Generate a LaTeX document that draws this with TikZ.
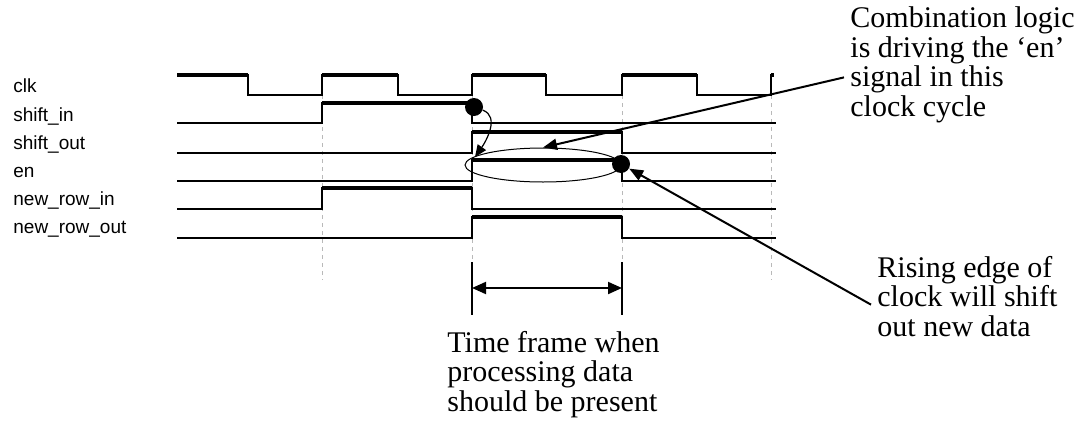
\documentclass[tikz,border=0pt]{standalone}
\usepackage{fontspec}
\setmainfont{Liberation Serif}
\newfontfamily\wavefont{Liberation Sans}
\usepackage{tikz}
\usetikzlibrary{shapes.geometric}
\usetikzlibrary{arrows.meta}

\begin{document}
\begin{tikzpicture}[x=0.5pt,y=-0.5pt,
    sig/.style={font=\wavefont\fontsize{9.5}{11}\selectfont, anchor=base west, inner sep=0},
    wave/.style={line width=1pt},
    high/.style={line width=1.6pt},
    period/.style={gray!55, dash pattern=on 2pt off 2pt, line width=0.5pt},
    sigdot/.style={circle, fill=black, inner sep=0, minimum size=9pt},
    notetext/.style={font=\fontsize{15}{14.8}\selectfont, align=left, anchor=north west, inner xsep=3pt, inner ysep=0},
    pointer/.style={-{Triangle[length=7pt,width=5.5pt]}, line width=1pt}]
    \useasboundingbox (0,0) rectangle (1086,423);

    % clock period markers
    \foreach \x in {322,472,622,771}
        \draw[period] (\x,95) -- (\x,280);

    % signal names
    \node[sig] (clk) at (13,92) {clk};
    \node[sig] (shin) at (13,121) {shift\_in};
    \node[sig] (shout) at (13,149) {shift\_out};
    \node[sig] (en) at (13,177) {en};
    \node[sig] (nrin) at (13,205) {new\_row\_in};
    \node[sig] (nrout) at (13,233) {new\_row\_out};

    % waveforms
    \draw[wave] (177,75) -- (248,75) -- (248,95) -- (322,95) -- (322,75) -- (398,75) -- (398,95)
        -- (472,95) -- (472,75) -- (546,75) -- (546,95) -- (622,95) -- (622,75) -- (697,75)
        -- (697,95) -- (771,95) -- (771,75) -- (774,75);
    \draw[wave] (177,123) -- (322,123) -- (322,103) -- (472,103) -- (472,123) -- (776,123);
    \draw[wave] (177,153) -- (472,153) -- (472,132) -- (622,132) -- (622,153) -- (776,153);
    \draw[wave] (177,181) -- (472,181) -- (472,160) -- (622,160) -- (622,181) -- (776,181);
    \draw[wave] (177,209) -- (322,209) -- (322,188) -- (472,188) -- (472,209) -- (776,209);
    \draw[wave] (177,238) -- (472,238) -- (472,217) -- (622,217) -- (622,238) -- (776,238);

    % heavier high levels
    \draw[high] (177,75) -- (248,75) (322,75) -- (398,75) (472,75) -- (546,75)
        (622,75) -- (697,75) (771,75) -- (774,75);
    \draw[high] (322,103) -- (472,103);
    \draw[high] (472,132) -- (622,132);
    \draw[high] (472,160) -- (622,160);
    \draw[high] (322,188) -- (472,188);
    \draw[high] (472,217) -- (622,217);

    % edges of interest
    \node[sigdot] (sidot) at (474,107) {};
    \node[sigdot] (endot) at (621,164) {};
    \node[draw, ellipse, line width=0.5pt, minimum width=78pt, minimum height=17pt, inner sep=0] (window) at (543,165) {};
    \coordinate (entip) at (475,157);
    \draw[line width=0.6pt, -{Triangle[length=6pt,width=5pt]}] (sidot) to[out=-20,in=55] (entip);

    % notes
    \node[notetext] (comb) at (844,6.5) {Combination logic\\is driving the ‘en’\\signal in this\\clock cycle};
    \node[notetext] (rise) at (871,255.5) {Rising edge of\\clock will shift\\out new data};
    \node[notetext] (frame) at (441,330.5) {Time frame when\\processing data\\should be present};

    \draw[pointer] (comb.186) -- (window.north);
    \draw[pointer] (rise.185) -- (endot);

    % processing window
    \draw[line width=0.6pt] (472,262) -- (472,315);
    \draw[line width=0.6pt] (622,262) -- (622,315);
    \coordinate (tfl) at (472,288);
    \coordinate (tfr) at (622,288);
    \draw[{Triangle[length=7pt,width=6pt]}-{Triangle[length=7pt,width=6pt]}, line width=1pt] (tfl) -- (tfr);
\end{tikzpicture}
\end{document}
